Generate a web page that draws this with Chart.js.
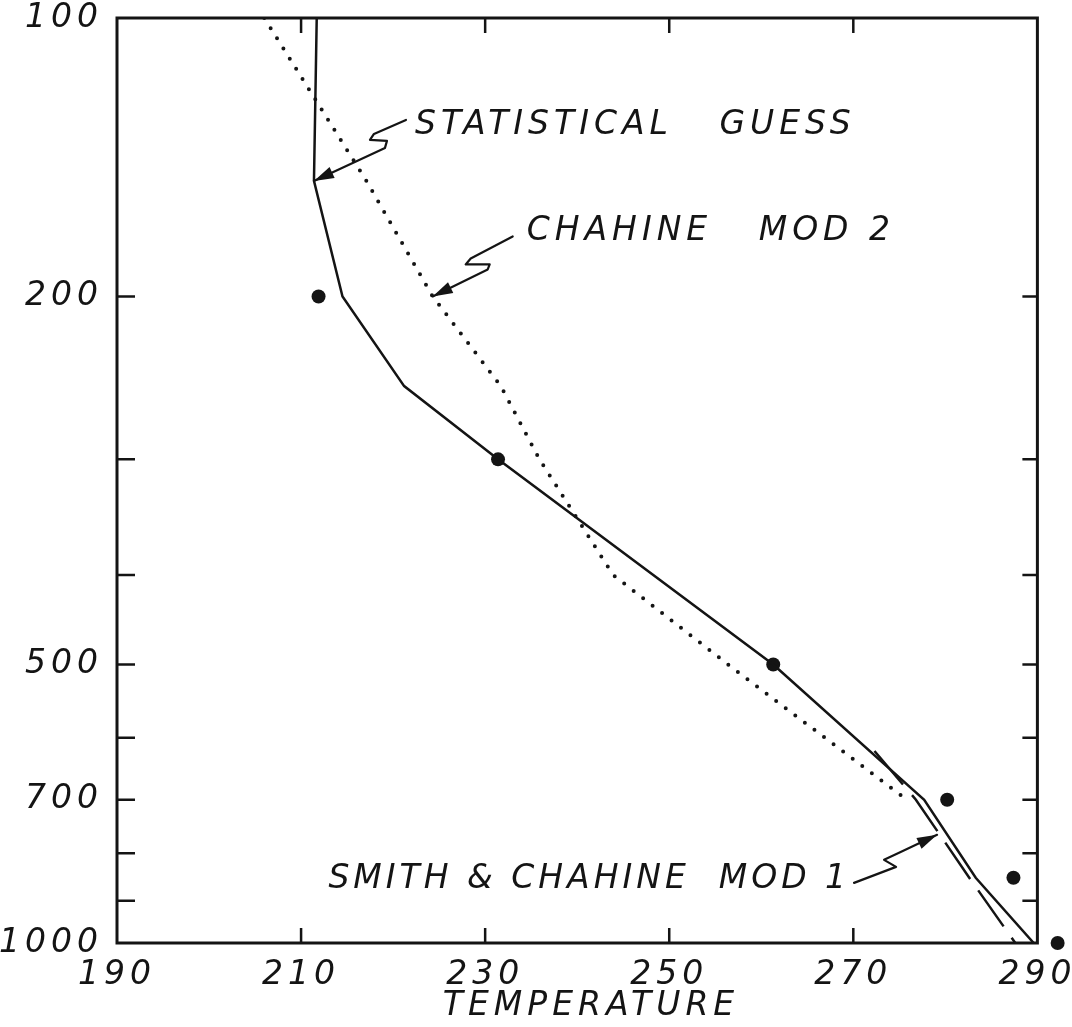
<!DOCTYPE html>
<html>
<head>
<meta charset="utf-8">
<script src="https://cdn.jsdelivr.net/npm/chart.js@4.4.1/dist/chart.umd.min.js"></script>
<style>
  html, body { margin: 0; padding: 0; background: #fff; }
</style>
</head>
<body>
<canvas id="chart" width="1072" height="1027"></canvas>
<script>
// temperature (K) against pressure (mb)
const guessPressure = [100, 150, 200, 250, 300, 500, 700, 850, 1000];
const guessTemp     = [211.7, 211.4, 214.5, 221.2, 231.4, 261.3, 277.7, 283.3, 289.6];

const mod1Pressure = [620, 700, 850, 1000];
const mod1Temp     = [272.3, 276.8, 282.6, 287.6];

const mod2Pressure = [100, 150, 200, 250, 300, 400, 500, 700];
const mod2Temp     = [206.0, 217.1, 224.3, 231.7, 235.9, 243.9, 256.4, 275.8];

const obsPressure = [200, 300, 500, 700, 850, 1000];
const obsTemp     = [211.9, 231.4, 261.3, 280.2, 287.4, 292.2];

const xTicks = [190, 210, 230, 250, 270, 290];
const xInner = [210, 230, 250, 270];
const yTicks = [100, 200, 300, 400, 500, 600, 700, 800, 900, 1000];
const yInner = [200, 300, 400, 500, 600, 700, 800, 900];
const yLabels = [100, 200, 500, 700, 1000];

const xFrameMin = 190, xFrameMax = 290;   // the box; the 1000 mb dot sits just outside it

const ink = '#141414';
const hand = { family: 'DejaVu Sans', style: 'italic', size: 33 };
const spacing = 5;

// labels with their squiggly arrows; offsets in px from the arrow tip
const notes = [
  { text: 'STATISTICAL   GUESS', t: 211.4, p: 150, align: 'left', tx: 101, ty: -55,
    path: [[92, -61], [60, -47], [56, -41], [73, -40], [71, -33]] },
  { text: 'CHAHINE   MOD 2', t: 224.3, p: 200, align: 'left', tx: 94, ty: -65,
    path: [[80, -60], [38, -38], [33, -32], [57, -32], [55, -27]] },
  { text: 'SMITH & CHAHINE  MOD 1', t: 279.1, p: 764, align: 'right', tx: -87, ty: 45,
    path: [[-83, 48], [-41, 32], [-53, 25], [-38, 18]], spacing: 4 }
];

const pts = (temps, press) => temps.map((t, i) => ({ x: t, y: press[i] }));

function drawNote(ctx, n, xs, ys) {
  const tx = xs.getPixelForValue(n.t), ty = ys.getPixelForValue(n.p);
  const path = n.path.map(([dx, dy]) => [tx + dx, ty + dy]);
  ctx.beginPath();
  ctx.moveTo(path[0][0], path[0][1]);
  path.slice(1).forEach(q => ctx.lineTo(q[0], q[1]));
  ctx.lineTo(tx, ty);
  ctx.stroke();

  const [lx, ly] = path[path.length - 1];
  const a = Math.atan2(ty - ly, tx - lx);
  const len = 20, half = 6;
  const bx = tx - len * Math.cos(a), by = ty - len * Math.sin(a);
  ctx.beginPath();
  ctx.moveTo(tx, ty);
  ctx.lineTo(bx + half * Math.sin(a), by - half * Math.cos(a));
  ctx.lineTo(bx - half * Math.sin(a), by + half * Math.cos(a));
  ctx.closePath();
  ctx.fill();

  ctx.letterSpacing = (n.spacing || spacing) + 'px';
  ctx.textAlign = n.align;
  ctx.textBaseline = 'middle';
  ctx.fillText(n.text, tx + n.tx, ty + n.ty);
}

const handDrawn = {
  id: 'handDrawn',
  beforeDraw(chart) {
    const ctx = chart.ctx;
    ctx.save();
    ctx.fillStyle = '#fff';
    ctx.fillRect(0, 0, chart.width, chart.height);
    ctx.restore();
    ctx.letterSpacing = spacing + 'px';
  },
  afterDraw(chart) {
    const { ctx, chartArea: a, scales: { x, y } } = chart;
    const left = x.getPixelForValue(xFrameMin), right = x.getPixelForValue(xFrameMax);
    ctx.save();
    ctx.strokeStyle = ink;
    ctx.fillStyle = ink;
    ctx.lineWidth = 3;
    ctx.strokeRect(left, a.top, right - left, a.bottom - a.top);

    // tick marks point inward
    ctx.lineWidth = 2.5;
    ctx.beginPath();
    xInner.forEach(v => {
      const px = x.getPixelForValue(v);
      ctx.moveTo(px, a.bottom); ctx.lineTo(px, a.bottom - 15);
      ctx.moveTo(px, a.top); ctx.lineTo(px, a.top + 15);
    });
    yInner.forEach(v => {
      const py = y.getPixelForValue(v);
      ctx.moveTo(left, py); ctx.lineTo(left + 18, py);
      ctx.moveTo(right, py); ctx.lineTo(right - 15, py);
    });
    ctx.stroke();

    ctx.lineWidth = 2.2;
    ctx.lineJoin = 'round';
    ctx.lineCap = 'round';
    ctx.font = `italic ${hand.size}px "${hand.family}"`;
    notes.forEach(n => drawNote(ctx, n, x, y));
    ctx.restore();
  }
};

new Chart(document.getElementById('chart'), {
  type: 'line',
  data: {
    datasets: [
      {
        label: 'Statistical guess',
        data: pts(guessTemp, guessPressure),
        borderColor: ink, borderWidth: 2.5, pointRadius: 0, tension: 0
      },
      {
        label: 'Smith & Chahine mod 1',
        data: pts(mod1Temp, mod1Pressure),
        borderColor: ink, borderWidth: 2.5, borderDash: [44, 14], pointRadius: 0, tension: 0
      },
      {
        label: 'Chahine mod 2',
        data: pts(mod2Temp, mod2Pressure),
        borderColor: ink, borderWidth: 4, borderDash: [0, 12], borderCapStyle: 'round',
        pointRadius: 0, tension: 0
      },
      {
        label: 'Observed',
        data: pts(obsTemp, obsPressure),
        showLine: false, pointRadius: 7, pointBackgroundColor: ink, pointBorderWidth: 0,
        clip: false
      }
    ]
  },
  options: {
    responsive: false,
    animation: false,
    layout: { padding: { top: 18, right: 5, bottom: 0, left: 0 } },
    plugins: { legend: { display: false }, tooltip: { enabled: false } },
    scales: {
      x: {
        type: 'linear',
        min: 190, max: 293,
        grid: { display: false, drawTicks: false },
        border: { display: false },
        afterBuildTicks: s => { s.ticks = xTicks.map(v => ({ value: v })); },
        afterFit: s => { s.height = 84; s.paddingLeft = 0; s.paddingRight = 0; },
        ticks: { autoSkip: false, maxRotation: 0, padding: 13, color: ink, font: hand,
                 callback: v => String(v) },
        title: { display: true, text: 'TEMPERATURE', color: ink,
                 font: { ...hand, lineHeight: 1.0 }, padding: { top: 0, bottom: 4 } }
      },
      y: {
        type: 'logarithmic',
        min: 100, max: 1000,
        reverse: true,
        grid: { display: false, drawTicks: false },
        border: { display: false },
        afterBuildTicks: s => { s.ticks = yTicks.map(v => ({ value: v })); },
        afterFit: s => { s.width = 117; s.paddingTop = 0; s.paddingBottom = 0; },
        ticks: { autoSkip: false, padding: 14, color: ink, font: hand,
                 callback: v => yLabels.includes(v) ? String(v) : '' }
      }
    }
  },
  plugins: [handDrawn]
});
</script>
</body>
</html>
